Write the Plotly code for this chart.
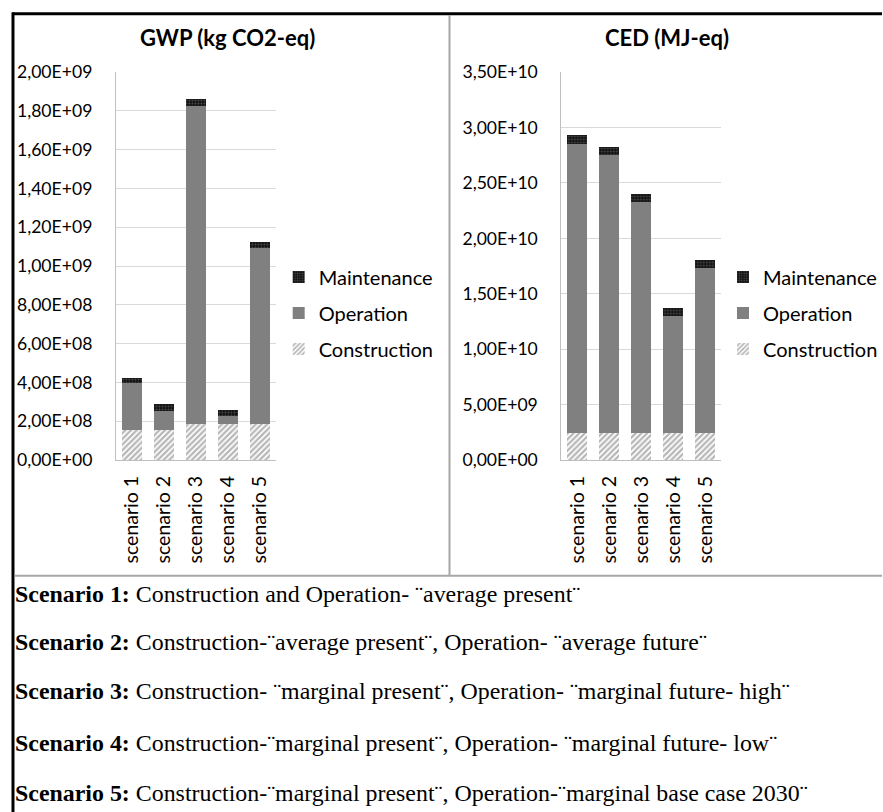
import plotly.graph_objects as go

# ---------------- data ----------------
scenarios = ["scenario 1", "scenario 2", "scenario 3", "scenario 4", "scenario 5"]

gwp_construction = [1.55e8, 1.55e8, 1.84e8, 1.84e8, 1.84e8]
gwp_operation = [2.40e8, 0.98e8, 1.64e9, 0.43e8, 9.10e8]
gwp_maintenance = [3.0e7, 3.4e7, 3.7e7, 3.1e7, 3.1e7]

ced_construction = [2.42e9, 2.42e9, 2.42e9, 2.42e9, 2.42e9]
ced_operation = [2.61e10, 2.51e10, 2.085e10, 1.054e10, 1.487e10]
ced_maintenance = [8.0e8, 7.6e8, 7.5e8, 7.3e8, 7.5e8]

gwp_tickvals = [0, 2e8, 4e8, 6e8, 8e8, 1e9, 1.2e9, 1.4e9, 1.6e9, 1.8e9, 2e9]
gwp_ticktext = ["0,00E+00", "2,00E+08", "4,00E+08", "6,00E+08", "8,00E+08", "1,00E+09",
                "1,20E+09", "1,40E+09", "1,60E+09", "1,80E+09", "2,00E+09"]
ced_tickvals = [0, 5e9, 1e10, 1.5e10, 2e10, 2.5e10, 3e10, 3.5e10]
ced_ticktext = ["0,00E+00", "5,00E+09", "1,00E+10", "1,50E+10", "2,00E+10", "2,50E+10",
                "3,00E+10", "3,50E+10"]

titles = ["GWP (kg CO2-eq)", "CED (MJ-eq)"]
series_names = ["Construction", "Operation", "Maintenance"]
legend_ranks = {"Maintenance": 1, "Operation": 2, "Construction": 3}

notes_bold = ["Scenario 1:", "Scenario 2:", "Scenario 3:", "Scenario 4:", "Scenario 5:"]
notes_text = [
    "Construction and Operation- ¨average present¨",
    "Construction-¨average present¨, Operation- ¨average future¨",
    "Construction- ¨marginal present¨, Operation- ¨marginal future- high¨",
    "Construction-¨marginal present¨, Operation- ¨marginal future- low¨",
    "Construction-¨marginal present¨, Operation-¨marginal base case 2030¨",
]

# ---------------- layout helpers ----------------
W, H = 883, 812
OFF, SC = 12.6, 0.9716   # empirical vertical mapping of the photographed page
def px(x):
    return x / W
def py(y):
    return 1 - ((y - OFF) / SC) / H

FONT = "Lato"
styles = {
    "Construction": dict(color="white", pattern=dict(shape="/", fgcolor="#6e6e6e", bgcolor="#ffffff",
                                                     size=4, solidity=0.55)),
    "Operation": dict(color="#808080"),
    "Maintenance": dict(color="#111111", pattern=dict(shape=".", fgcolor="#8a8a8a", bgcolor="#111111",
                                                      size=3, solidity=0.3)),
}

fig = go.Figure()

def add_chart(vals, xa, ya, legend):
    for name, v in zip(series_names, vals):
        fig.add_trace(go.Bar(
            x=scenarios, y=v, name=name, xaxis=xa, yaxis=ya, legend=legend,
            legendgroup=legend + name, legendrank=legend_ranks[name],
            marker=dict(line=dict(width=0), **styles[name]),
        ))

add_chart([gwp_construction, gwp_operation, gwp_maintenance], "x", "y", "legend")
add_chart([ced_construction, ced_operation, ced_maintenance], "x2", "y2", "legend2")

common_x = dict(showgrid=False, showline=True, linecolor="#bfbfbf", linewidth=1,
                tickangle=-90, tickfont=dict(family=FONT, size=19.5, color="black"),
                ticks="", ticklabelstandoff=7, fixedrange=True)
common_y = dict(showgrid=True, gridcolor="#d9d9d9", gridwidth=1, showline=True,
                linecolor="#bfbfbf", linewidth=1,
                tickfont=dict(family=FONT, size=17.6, color="black"), ticks="",
                zeroline=False, ticklabelstandoff=19, fixedrange=True)

legend_common = dict(font=dict(family=FONT, size=20, color="black"), traceorder="grouped",
                     tracegroupgap=7, bgcolor="rgba(0,0,0,0)", xanchor="left", yanchor="top",
                     itemclick=False)

fig.update_layout(
    width=W, height=H, margin=dict(l=0, r=0, t=0, b=0),
    paper_bgcolor="white", plot_bgcolor="white",
    barmode="stack", bargap=0.375,
    xaxis=dict(domain=[px(116), px(276)], anchor="y", **common_x),
    yaxis=dict(domain=[py(460.5), py(73.5)], range=[0, 2e9], anchor="x",
               tickvals=gwp_tickvals, ticktext=gwp_ticktext, **common_y),
    xaxis2=dict(domain=[px(562), px(722)], anchor="y2", **common_x),
    yaxis2=dict(domain=[py(460.5), py(73.5)], range=[0, 3.5e10], anchor="x2",
                tickvals=ced_tickvals, ticktext=ced_ticktext, **common_y),
    legend=dict(x=px(279), y=py(258.5), **legend_common),
    legend2=dict(x=px(724), y=py(258.5), **legend_common),
    showlegend=True,
)

# titles
for t, cx in zip(titles, [228, 668]):
    fig.add_annotation(text="<b>%s</b>" % t, xref="paper", yref="paper", x=px(cx), y=py(39),
                       xanchor="center", yanchor="middle", showarrow=False,
                       font=dict(family=FONT, size=22, color="black"))

# scenario notes
note_y = [594, 642, 691, 743, 793]
for b, t, yy in zip(notes_bold, notes_text, note_y):
    fig.add_annotation(text="<b>%s</b> %s" % (b, t), xref="paper", yref="paper",
                       x=px(13), y=py(yy), xanchor="left", yanchor="middle", showarrow=False,
                       font=dict(family="Liberation Serif", size=23.9, color="black"))

# frame lines
shapes = [
    dict(type="line", xref="paper", yref="paper", x0=px(12), x1=1, y0=py(15.3), y1=py(15.3),
         line=dict(color="black", width=3)),
    dict(type="line", xref="paper", yref="paper", x0=px(13), x1=px(13), y0=py(14), y1=py(830),
         line=dict(color="black", width=3)),
    dict(type="line", xref="paper", yref="paper", x0=px(450), x1=px(450), y0=py(16.5), y1=py(576),
         line=dict(color="#a6a6a6", width=2)),
    dict(type="line", xref="paper", yref="paper", x0=px(14.5), x1=1, y0=py(576), y1=py(576),
         line=dict(color="#a6a6a6", width=2)),
]
fig.update_layout(shapes=shapes)

fig.write_html("out.html", config={"displayModeBar": False},
               post_script="document.body.style.margin='0';document.body.style.overflow='hidden';")
